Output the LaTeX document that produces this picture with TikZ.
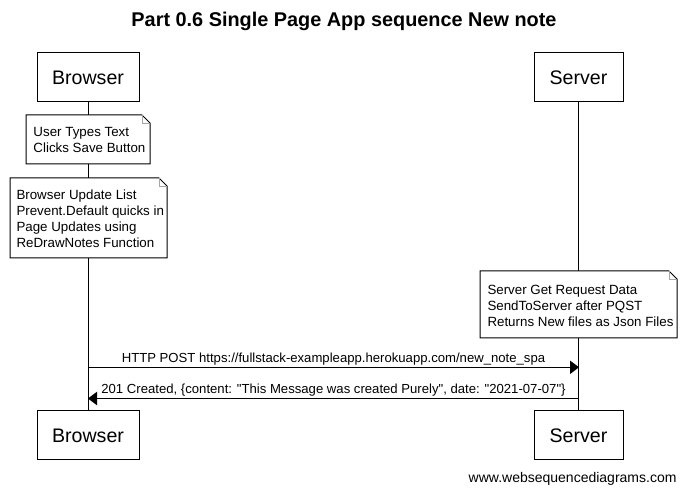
\documentclass[tikz,border=0pt]{standalone}
\usepackage{fontspec}
\setmainfont{Liberation Sans}[Ligatures=TeXOff]
\usetikzlibrary{arrows.meta,calc}
\begin{document}
\begin{tikzpicture}[x=0.75pt,y=-0.75pt,
  line width=0.75pt,
  actor/.style={draw, inner sep=0pt, minimum height=49*0.75pt, font=\fontsize{14.7}{17}\selectfont},
  notetext/.style={align=left, inner sep=0pt, anchor=west, font=\fontsize{10}{12}\selectfont},
  notebox/.style={draw, fill=white},
  foldline/.style={draw=gray!70, line width=0.6pt},
  msg/.style={-{Triangle[length=6.75pt,width=10pt]}},
  msglabel/.style={anchor=base, inner sep=0pt, yshift=3.4pt, font=\fontsize{9.85}{12}\selectfont}
]
\useasboundingbox (0,0) rectangle (687,495);

% title
\node[font=\bfseries\fontsize{14.9}{18}\selectfont] (title) at (344,21) {Part 0.6 Single Page App sequence New note};

% participants
\node[actor, minimum width=102*0.75pt] (bt) at (88,77.5) {Browser};
\node[actor, minimum width=89*0.75pt] (st) at (578.5,77.5) {Server};
\node[actor, minimum width=102*0.75pt] (bb) at (88,435.5) {Browser};
\node[actor, minimum width=89*0.75pt] (sb) at (578.5,435.5) {Server};

% lifelines
\draw (bt.south) -- (bb.north);
\draw (st.south) -- (sb.north);

% note 1
\path[notebox] (26,115) -- (142,115) -- (150,123) -- (150,164) -- (26,164) -- cycle;
\path[foldline] (142,115) -- (142,123) -- (150,123);
\node[notetext] (n1) at (33,140) {User Types Text\\Clicks Save Button};

% note 2
\path[notebox] (10,178) -- (159,178) -- (167,186) -- (167,258) -- (10,258) -- cycle;
\path[foldline] (159,178) -- (159,186) -- (167,186);
\node[notetext] (n2) at (16,219) {Browser Update List\\Prevent.Default quicks in\\Page Updates using\\ReDrawNotes Function};

% note 3
\path[notebox] (480,271) -- (669,271) -- (677,279) -- (677,338) -- (480,338) -- cycle;
\path[foldline] (669,271) -- (669,279) -- (677,279);
\node[notetext] (n3) at (487,306) {Server Get Request Data\\SendToServer after PQST\\Returns New files as Json Files};

% messages
\coordinate (m1a) at (88,367.3);
\coordinate (m1b) at (579,367.3);
\coordinate (m2a) at (579,398.5);
\coordinate (m2b) at (88,398.5);
\draw[msg] (m1a) -- node[msglabel] (l1) {HTTP POST https://fullstack-exampleapp.herokuapp.com/new\_note\_spa} (m1b);
\draw[msg] (m2a) -- node[msglabel] (l2) {201 Created, \{content: "This Message was created Purely", date: "2021-07-07"\}} (m2b);

% footer
\node[anchor=east, inner sep=0pt, font=\fontsize{10.5}{12}\selectfont] (footer) at (677,479) {www.websequencediagrams.com};
\end{tikzpicture}
\end{document}
